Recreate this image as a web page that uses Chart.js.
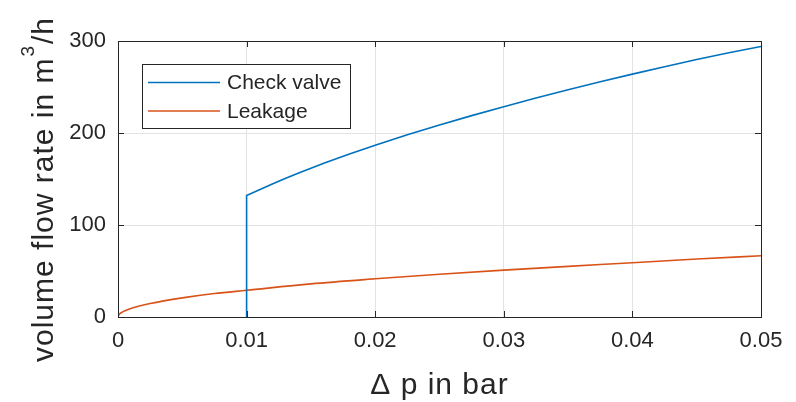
<!DOCTYPE html>
<html>
<head>
<meta charset="utf-8">
<script src="https://cdn.jsdelivr.net/npm/chart.js@4/dist/chart.umd.min.js"></script>
<style>
  body { margin: 0; background: #fff; }
  #wrap { width: 796px; height: 402px; }
</style>
</head>
<body>
<div id="wrap"><canvas id="flowChart" width="796" height="402"></canvas></div>
<script>
// values
const checkValveDp = [0.01, 0.01, 0.011, 0.012, 0.013, 0.014, 0.016, 0.018, 0.02, 0.0225, 0.025, 0.0275, 0.03, 0.0325, 0.035, 0.0375, 0.04, 0.0425, 0.045, 0.0475, 0.05];
const checkValveFlow = [0, 132, 138.4, 144.6, 150.5, 156.2, 167, 177.1, 186.7, 198, 208.7, 218.9, 228.6, 238, 247, 255.6, 264, 272, 279.8, 287.2, 294];
const leakageDp = [0, 0.0001, 0.00025, 0.0005, 0.001, 0.0025, 0.005, 0.0075, 0.01, 0.015, 0.02, 0.025, 0.03, 0.035, 0.04, 0.045, 0.05];
const leakageFlow = [0, 3, 4.6, 6.5, 9.2, 14.6, 20.8, 25.5, 29, 36, 41.5, 46.5, 51, 55, 59, 63, 66.5];
const xTicks = [0, 0.01, 0.02, 0.03, 0.04, 0.05];
const yTicks = [0, 100, 200, 300];

const FONT = 'Liberation Sans, Arial, sans-serif';
const AXIS = '#262626';

function toPoints(xs, ys) {
    return xs.map((x, i) => ({ x: x, y: ys[i] }));
}

// box, inward ticks, axis titles and legend like the matlab figure
const matlabAxes = {
    id: 'matlabAxes',
    afterDatasetsDraw(chart) {
        const { ctx, chartArea: a, scales } = chart;
        ctx.save();
        ctx.strokeStyle = AXIS;
        ctx.lineWidth = 1;
        ctx.beginPath();
        xTicks.forEach(t => {
            const px = Math.round(scales.x.getPixelForValue(t)) + 0.5;
            ctx.moveTo(px, a.bottom); ctx.lineTo(px, a.bottom - 6);
            ctx.moveTo(px, a.top); ctx.lineTo(px, a.top + 6);
        });
        yTicks.forEach(t => {
            const py = Math.round(scales.y.getPixelForValue(t)) + 0.5;
            ctx.moveTo(a.left, py); ctx.lineTo(a.left + 6, py);
            ctx.moveTo(a.right, py); ctx.lineTo(a.right - 6, py);
        });
        ctx.stroke();
        ctx.strokeRect(Math.round(a.left) + 0.5, Math.round(a.top) + 0.5,
            Math.round(a.right - a.left), Math.round(a.bottom - a.top));

        // axis titles
        ctx.fillStyle = AXIS;
        ctx.letterSpacing = '1px';
        ctx.textBaseline = 'alphabetic';
        ctx.font = '30px ' + FONT;
        ctx.textAlign = 'center';
        ctx.fillText('Δ p in bar', (a.left + a.right) / 2, 394);

        ctx.textAlign = 'left';
        ctx.save();
        ctx.translate(53, 362);
        ctx.rotate(-Math.PI / 2);
        const main = 'volume flow rate in m';
        ctx.font = '30px ' + FONT;
        ctx.fillText(main, 0, 0);
        let w = ctx.measureText(main).width + 1;
        ctx.font = '19px ' + FONT;
        ctx.fillText('3', w, -19);
        w += ctx.measureText('3').width + 1;
        ctx.font = '30px ' + FONT;
        ctx.fillText('/h', w, 0);
        ctx.restore();
        ctx.letterSpacing = '0px';

        // legend
        ctx.fillStyle = '#fff';
        ctx.fillRect(142.5, 64.5, 208, 64);
        ctx.strokeStyle = AXIS;
        ctx.strokeRect(142.5, 64.5, 208, 64);
        ctx.font = '21px ' + FONT;
        ctx.textBaseline = 'middle';
        chart.data.datasets.forEach((ds, i) => {
            const y = 82.5 + i * 28.5;
            ctx.strokeStyle = ds.borderColor;
            ctx.lineWidth = 1.5;
            ctx.beginPath();
            ctx.moveTo(148, y); ctx.lineTo(220, y);
            ctx.stroke();
            ctx.fillStyle = AXIS;
            ctx.fillText(ds.label, 227, y + 1);
        });
        ctx.restore();
    }
};

new Chart(document.getElementById('flowChart'), {
    type: 'scatter',
    data: {
        datasets: [{
            label: 'Check valve',
            data: toPoints(checkValveDp, checkValveFlow),
            showLine: true,
            borderColor: '#0072BD',
            borderWidth: 1.6,
            pointRadius: 0,
            tension: 0
        }, {
            label: 'Leakage',
            data: toPoints(leakageDp, leakageFlow),
            showLine: true,
            borderColor: '#D95319',
            borderWidth: 1.6,
            pointRadius: 0,
            cubicInterpolationMode: 'monotone'
        }]
    },
    options: {
        responsive: false,
        animation: false,
        layout: { padding: { left: 0, top: 41, right: 35, bottom: 0 } },
        plugins: {
            legend: { display: false },
            tooltip: { enabled: false }
        },
        scales: {
            x: {
                type: 'linear',
                min: 0,
                max: 0.05,
                afterBuildTicks: s => { s.ticks = xTicks.map(v => ({ value: v })); },
                afterFit: s => { s.height = 85; },
                border: { display: false },
                grid: { color: '#e3e3e3', drawTicks: false },
                ticks: {
                    color: AXIS,
                    font: { family: FONT, size: 22 },
                    padding: 11,
                    maxRotation: 0,
                    callback: v => String(v)
                }
            },
            y: {
                type: 'linear',
                min: 0,
                max: 300,
                afterBuildTicks: s => { s.ticks = yTicks.map(v => ({ value: v })); },
                afterFit: s => { s.width = 118; },
                border: { display: false },
                grid: { color: '#e3e3e3', drawTicks: false },
                ticks: {
                    color: AXIS,
                    font: { family: FONT, size: 22 },
                    padding: 12
                }
            }
        }
    },
    plugins: [matlabAxes]
});
</script>
</body>
</html>
